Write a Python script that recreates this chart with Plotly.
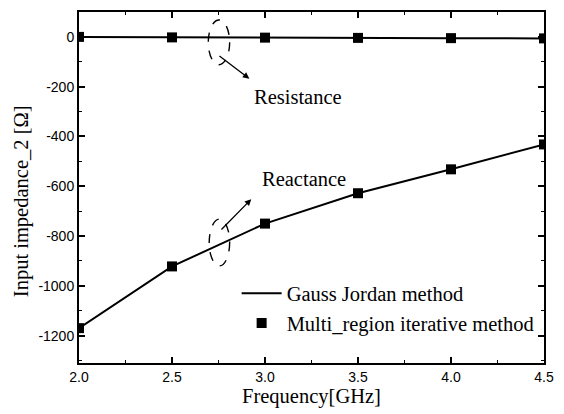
import plotly.graph_objects as go

freq = [2.0, 2.5, 3.0, 3.5, 4.0, 4.5]
resistance = [0, -2, -3, -4, -5, -6]
reactance = [-1170, -922, -750, -628, -532, -432]
x_ticks = [2.0, 2.5, 3.0, 3.5, 4.0, 4.5]
x_tick_labels = ["2.0", "2.5", "3.0", "3.5", "4.0", "4.5"]
y_ticks = [0, -200, -400, -600, -800, -1000, -1200]
y_tick_labels = ["0", "-200", "-400", "-600", "-800", "-1000", "-1200"]

fig = go.Figure()
line_style = dict(color="black", width=2)
marker_style = dict(symbol="square", size=10, color="black")

fig.add_trace(go.Scatter(x=freq, y=resistance, mode="lines", line=line_style,
                         name="Gauss Jordan method", legendgroup="gj"))
fig.add_trace(go.Scatter(x=freq, y=reactance, mode="lines", line=line_style,
                         name="Gauss Jordan method", legendgroup="gj", showlegend=False))
fig.add_trace(go.Scatter(x=freq, y=resistance, mode="markers", marker=marker_style,
                         name="Multi_region iterative method", legendgroup="mr"))
fig.add_trace(go.Scatter(x=freq, y=reactance, mode="markers", marker=marker_style,
                         name="Multi_region iterative method", legendgroup="mr", showlegend=False))

serif = "Liberation Serif, Times New Roman, serif"
sans = "Liberation Sans, Arial, sans-serif"
big = 20.5

# dashed ellipses
fig.add_shape(type="circle", xref="x", yref="y", x0=2.695, x1=2.81, y0=-112, y1=68,
              line=dict(color="black", width=1.4, dash="dash"))
fig.add_shape(type="circle", xref="x", yref="y", x0=2.70, x1=2.81, y0=-920, y1=-732,
              line=dict(color="black", width=1.4, dash="dash"))

# arrows
fig.add_annotation(x=2.916, y=-168, ax=2.747, ay=-72, xref="x", yref="y", axref="x", ayref="y",
                   showarrow=True, arrowhead=2, arrowsize=1, arrowwidth=1.3, arrowcolor="black", text="")
fig.add_annotation(x=2.926, y=-652, ax=2.758, ay=-780, xref="x", yref="y", axref="x", ayref="y",
                   showarrow=True, arrowhead=2, arrowsize=1, arrowwidth=1.3, arrowcolor="black", text="")

fig.add_annotation(x=3.18, y=-240, xref="x", yref="y", text="Resistance", showarrow=False,
                   font=dict(family=serif, size=big, color="black"))
fig.add_annotation(x=3.21, y=-571, xref="x", yref="y", text="Reactance", showarrow=False,
                   font=dict(family=serif, size=big, color="black"))

# y-axis title (placed slightly below plot centre as in the reference)
fig.add_annotation(x=-0.124, y=0.462, xref="paper", yref="paper", text="Input impedance_2 [Ω]",
                   textangle=-90, showarrow=False, xanchor="center", yanchor="middle",
                   font=dict(family=serif, size=big, color="black"))

axis_common = dict(showline=True, linecolor="black", linewidth=2, mirror="allticks",
                   ticks="inside", ticklen=6, tickwidth=1.5, tickcolor="black",
                   showgrid=False, zeroline=False,
                   tickfont=dict(family=sans, size=14, color="black"))

fig.update_xaxes(range=[2.0, 4.5], tickvals=x_ticks, ticktext=x_tick_labels,
                 title=dict(text="Frequency[GHz]", font=dict(family=serif, size=big, color="black"),
                            standoff=2),
                 minor=dict(ticks="inside", ticklen=3, tickwidth=1.2, tickcolor="black", dtick=0.25,
                            tick0=2.0),
                 **axis_common)
fig.update_yaxes(range=[-1310, 100], tickvals=y_ticks, ticktext=y_tick_labels,
                 minor=dict(ticks="inside", ticklen=3, tickwidth=1.2, tickcolor="black", dtick=100,
                            tick0=0),
                 **axis_common)

fig.update_layout(
    width=564, height=414,
    margin=dict(l=79, r=10, t=10, b=51),
    plot_bgcolor="white", paper_bgcolor="white",
    legend=dict(x=0.339, y=0.255, xanchor="left", yanchor="top",
                bgcolor="rgba(0,0,0,0)", font=dict(family=serif, size=big, color="black"),
                tracegroupgap=0, itemwidth=40),
)

fig.write_html("out.html")
